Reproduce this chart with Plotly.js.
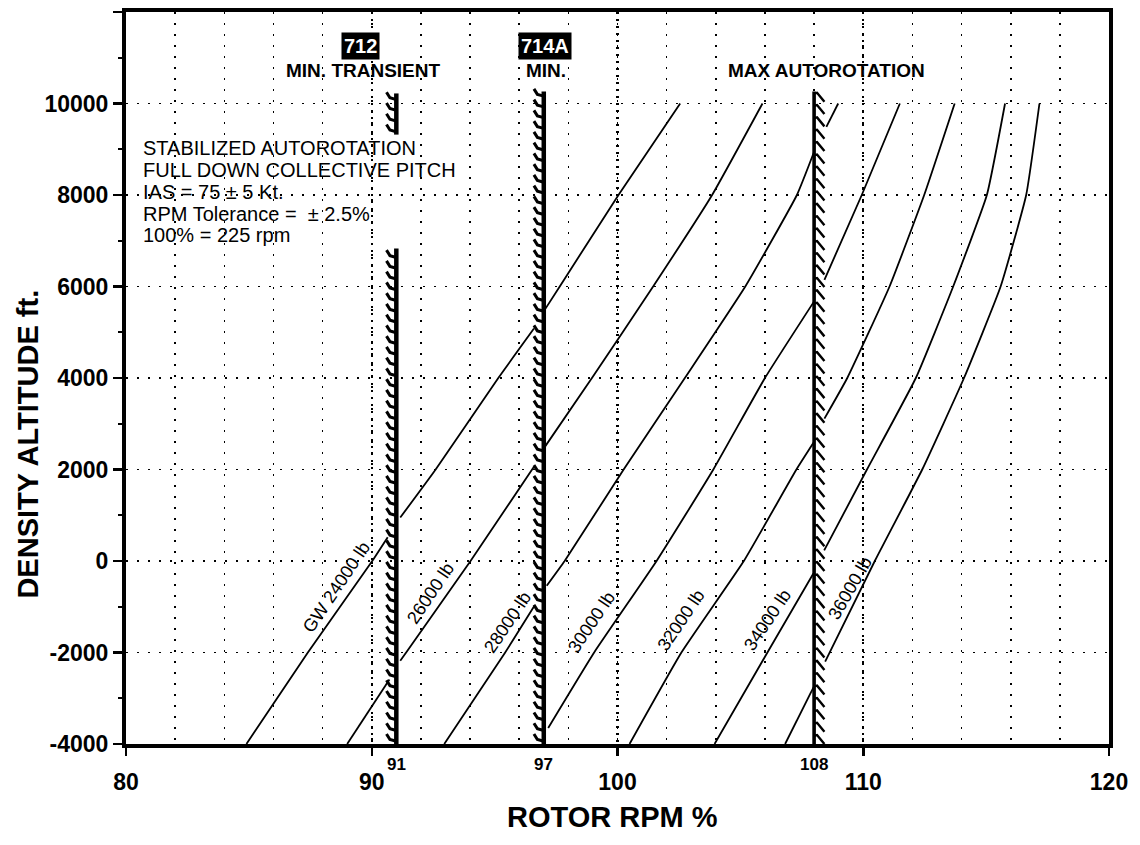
<!DOCTYPE html>
<html>
<head>
<meta charset="utf-8">
<script src="https://cdn.plot.ly/plotly-3.0.1.min.js"></script>
<style>
  html, body { margin: 0; padding: 0; background: #fff; }
  #chart { width: 1140px; height: 845px; }
</style>
</head>
<body>
<div id="chart"></div>
<script>
// ---------------- DATA ----------------
// Gross-weight curves: rotor RPM % (x) vs density altitude ft (y); null = gap where curve passes a limit line
const gw24000Rpm = [84.9, 87.4, 90.02, 90.65, null, 91.16, 92.6, 95.15, 96.6, null, 97.05, 97.65, 100.04, 102.55];
const gw24000Alt = [-4000, -2000, 0, 520, null, 950, 2000, 4000, 5080, null, 5500, 6000, 8000, 10000];

const gw26000Rpm = [89.0, 90.72, null, 91.16, 91.4, 94.02, 96.6, null, 97.05, 98.96, 101.45, 103.85, 105.9];
const gw26000Alt = [-4000, -2590, null, -2180, -2000, 0, 2060, null, 2500, 4000, 6000, 8000, 10000];

const gw28000Rpm = [92.95, 95.43, 96.62, null, 97.12, 97.85, 100.25, 102.74, 105.2, 107.3, 108.0, null, 108.5, 108.98];
const gw28000Alt = [-4000, -2000, -980, null, -540, 0, 2000, 4000, 6000, 8000, 8945, null, 9490, 10000];

const gw30000Rpm = [97.18, 99.05, 101.59, 103.9, 106.0, 108.0, null, 108.42, 109.94, 111.49];
const gw30000Alt = [-3650, -2000, 0, 2000, 4000, 5675, null, 6145, 8000, 10000];

const gw32000Rpm = [100.49, 102.6, 105.14, 107.28, 108.0, null, 108.42, 109.35, 111.07, 112.48, 113.72];
const gw32000Alt = [-4000, -2000, 0, 2000, 2606, null, 3112, 4000, 6000, 8000, 10000];

const gw34000Rpm = [103.95, 106.1, 107.97, null, 108.41, 110.15, 112.14, 113.66, 115.03, 115.77];
const gw34000Alt = [-4000, -2000, -274, null, 231, 2000, 4000, 6000, 8000, 10000];

const gw36000Rpm = [106.82, 108.0, null, 108.45, 110.47, 112.4, 114.1, 115.59, 116.63, 117.17];
const gw36000Alt = [-4000, -2735, null, -2200, 0, 2000, 4000, 6000, 8000, 10000];

// Curve labels
const curveLabels   = ['GW 24000 lb', '26000 lb', '28000 lb', '30000 lb', '32000 lb', '34000 lb', '36000 lb'];
const curveLabelRpm = [88.57, 92.4, 95.54, 98.95, 102.58, 106.1, 109.46];
const curveLabelAlt = [-570, -700, -1335, -1335, -1280, -1290, -580];

// Limit lines (rotor RPM %), forbidden side, and altitude spans
const limitRpm   = [91, 97, 108];
const limitSide  = [-1, -1, 1];
const limitSpans = [[[-4000, 6830], [9320, 10220]], [[-4000, 10260]], [[-4000, 10260]]];
const limitTags  = ['712', '714A'];
const limitNames = ['MIN. TRANSIENT', 'MIN.', 'MAX AUTOROTATION'];
const limitTagRpm  = [89.55, 97.04];
const limitNameRpm = [89.67, 97.07, 108.5];

// Conditions note
const noteLines = ['STABILIZED AUTOROTATION', 'FULL DOWN COLLECTIVE PITCH', 'IAS = 75 \u00b1 5 Kt.', 'RPM Tolerance =  \u00b1 2.5%', '100% = 225 rpm'];
const noteAlt   = [9037, 8556, 8074, 7593, 7133];

// Axis ticks
const xTickVals = [80, 90, 100, 110, 120];
const xTickText = ['80', '90', '100', '110', '120'];
const xExtraTicks = ['91', '97', '108'];
const yTickVals = [-4000, -2000, 0, 2000, 4000, 6000, 8000, 10000, 12000];
const yTickText = ['-4000', '-2000', '0', '2000', '4000', '6000', '8000', '10000', '12000'];

// ---------------- DRAWING ----------------
const FONT = 'Liberation Sans, Arial, Helvetica, sans-serif';
const curves = [
  [gw24000Rpm, gw24000Alt], [gw26000Rpm, gw26000Alt], [gw28000Rpm, gw28000Alt],
  [gw30000Rpm, gw30000Alt], [gw32000Rpm, gw32000Alt], [gw34000Rpm, gw34000Alt],
  [gw36000Rpm, gw36000Alt]
];

const traces = [];
curves.forEach(function (c) {
  traces.push({
    type: 'scatter', mode: 'lines', x: c[0], y: c[1],
    line: { color: '#000', width: 1.8, shape: 'spline', smoothing: 0.4 },
    connectgaps: false, hoverinfo: 'skip', showlegend: false
  });
});

// limit lines with hatch teeth
limitRpm.forEach(function (b, i) {
  const side = limitSide[i];
  const lx = [], ly = [], hx = [], hy = [];
  limitSpans[i].forEach(function (s) {
    lx.push(b, b, null); ly.push(s[0], s[1], null);
    if (side < 0) {
      for (let y = s[0] + 60; y < s[1] - 60; y += 235) {
        hx.push(b, b - 0.26, b - 0.4, null);
        hy.push(y, y + 40, y + 160, null);
      }
    } else {
      for (let y = s[1] - 40; y > s[0] + 150; y -= 270) {
        hx.push(b, b + 0.12, b + 0.42, null);
        hy.push(y, y + 15, y - 180, null);
      }
    }
  });
  traces.push({
    type: 'scatter', mode: 'lines', x: hx, y: hy,
    line: { color: '#000', width: side < 0 ? 3 : 2.4 },
    hoverinfo: 'skip', showlegend: false
  });
  traces.push({
    type: 'scatter', mode: 'lines', x: lx, y: ly,
    line: { color: '#000', width: side < 0 ? 4.5 : 3.6 },
    hoverinfo: 'skip', showlegend: false
  });
});

const annotations = [];
// curve labels
curveLabels.forEach(function (t, i) {
  annotations.push({
    x: curveLabelRpm[i], y: curveLabelAlt[i], xref: 'x', yref: 'y', text: t,
    showarrow: false, textangle: i === 6 ? -60 : -56,
    font: { family: FONT, size: 18, color: '#000' }, xanchor: 'center', yanchor: 'middle'
  });
});
// limit tags and names
limitTagRpm.forEach(function (x, i) {
  annotations.push({
    x: x, y: 11260, xref: 'x', yref: 'y', text: '<b>' + limitTags[i] + '</b>', showarrow: false,
    bgcolor: '#000', borderpad: 2, font: { family: FONT, size: 20, color: '#fff' },
    xanchor: 'center', yanchor: 'middle'
  });
});
limitNameRpm.forEach(function (x, i) {
  annotations.push({
    x: x, y: 10730, xref: 'x', yref: 'y', text: '<b>' + limitNames[i] + '</b>', showarrow: false,
    font: { family: FONT, size: 19, color: '#000' }, xanchor: 'center', yanchor: 'middle'
  });
});
// note block
noteLines.forEach(function (t, i) {
  annotations.push({
    x: 80.6, y: noteAlt[i], xref: 'x', yref: 'y', text: t, showarrow: false,
    font: { family: FONT, size: 20, color: '#000' }, xanchor: 'left', yanchor: 'middle'
  });
});
// extra x tick labels at limit lines
limitRpm.forEach(function (b, i) {
  annotations.push({
    x: b, y: -4000, xref: 'x', yref: 'y', text: '<b>' + xExtraTicks[i] + '</b>', showarrow: false,
    font: { family: FONT, size: 17, color: '#000' }, xanchor: 'center', yanchor: 'top', yshift: -9
  });
});
// axis titles
annotations.push({
  x: 0.495, y: -0.1, xref: 'paper', yref: 'paper', text: '<b>ROTOR RPM %</b>', showarrow: false,
  font: { family: FONT, size: 29, color: '#000' }, xanchor: 'center', yanchor: 'middle'
});
annotations.push({
  x: -0.1, y: 0.41, xref: 'paper', yref: 'paper', text: '<b>DENSITY ALTITUDE ft.</b>', showarrow: false,
  textangle: -90, font: { family: FONT, size: 29, color: '#000' }, xanchor: 'center', yanchor: 'middle'
});

const layout = {
  width: 1140, height: 845,
  margin: { l: 126, r: 31, t: 12, b: 101 },
  paper_bgcolor: '#fff', plot_bgcolor: '#fff',
  showlegend: false,
  font: { family: FONT, color: '#000' },
  xaxis: {
    range: [80, 120], tickvals: xTickVals, ticktext: xTickText,
    ticks: 'outside', ticklen: 8, tickwidth: 2.5, tickcolor: '#000',
    tickfont: { family: FONT, size: 23, color: '#000', weight: 'bold' },
    ticklabelstandoff: 6,
    showline: true, linewidth: 4, linecolor: '#000', mirror: true,
    showgrid: true, gridcolor: '#000', gridwidth: 2.4, griddash: '2px,5px',
    minor: { dtick: 2, tick0: 80, showgrid: true, gridcolor: '#000', gridwidth: 1.6, griddash: '2px,9px', ticks: '' },
    zeroline: false, fixedrange: true
  },
  yaxis: {
    range: [-4000, 12000], tickvals: yTickVals, ticktext: yTickText,
    ticks: 'outside', ticklen: 9, tickwidth: 2.5, tickcolor: '#000',
    tickfont: { family: FONT, size: 23, color: '#000', weight: 'bold' },
    ticklabelstandoff: 0,
    showline: true, linewidth: 4, linecolor: '#000', mirror: true,
    showgrid: true, gridcolor: '#000', gridwidth: 1.6, griddash: '2px,9px',
    minor: { dtick: 1000, tick0: 0, ticks: 'outside', ticklen: 4, tickwidth: 2, tickcolor: '#000', showgrid: false },
    zeroline: false, fixedrange: true
  },
  annotations: annotations
};

Plotly.newPlot('chart', traces, layout, { displayModeBar: false, staticPlot: true });
</script>
</body>
</html>
